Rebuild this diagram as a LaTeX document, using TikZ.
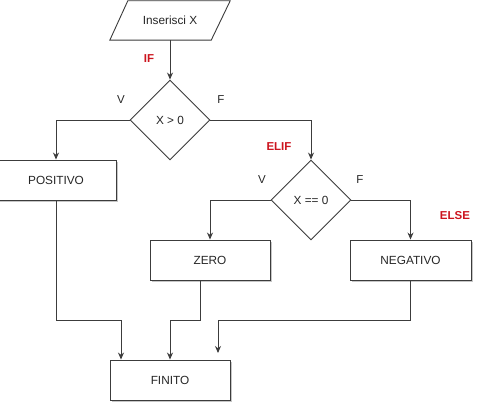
\documentclass[tikz,border=0pt]{standalone}
\usepackage{fontspec}
\setmainfont{Liberation Sans}
\usetikzlibrary{shapes.geometric,arrows.meta,shadows}
\definecolor{lbl}{RGB}{204,20,30}
\definecolor{ln}{RGB}{60,60,60}
\tikzset{
  shad/.style={drop shadow={shadow xshift=1.5pt, shadow yshift=-1.5pt, fill=black!50, opacity=0.45}},
  txt/.style={font=\fontsize{11.8}{13}\selectfont, text=black!85},
  box/.style={draw=ln, line width=0.9pt, fill=white, minimum width=120pt, minimum height=40pt, inner sep=0pt, txt, shad},
  dia/.style={draw=ln, line width=0.9pt, fill=white, diamond, aspect=1, minimum width=80pt, minimum height=80pt, inner sep=0pt, txt},
  arr/.style={draw=ln, line width=0.9pt, -{Stealth[length=7pt,width=6pt]}},
  red/.style={text=lbl, font=\bfseries\fontsize{11.5}{13}\selectfont},
  vf/.style={text=black!85, font=\fontsize{11.5}{13}\selectfont},
}
\begin{document}
\begin{tikzpicture}[x=1pt,y=-1pt]
\useasboundingbox (0,0) rectangle (482,412);
\node[minimum width=120pt, minimum height=39pt, inner sep=0pt] (inp) at (170,20.5) {};
\fill[black!50, opacity=0.45, shift={(1.5pt,-1.5pt)}] (inp.south west) -- ([xshift=-19pt]inp.south east) -- (inp.north east) -- ([xshift=18pt]inp.north west) -- cycle;
\draw[ln, line width=0.9pt, fill=white] (inp.south west) -- ([xshift=-19pt]inp.south east) -- (inp.north east) -- ([xshift=18pt]inp.north west) -- cycle;
\node[txt] (inptxt) at (inp.center) {Inserisci X};
\node[dia] (d1) at (170,120) {X > 0};
\node[box] (pos) at (56,180) {POSITIVO};
\node[dia] (d2) at (311,200) {X == 0};
\node[box, minimum width=120pt] (zero) at (210,260) {ZERO};
\node[box, minimum width=121pt] (neg) at (410.5,260) {NEGATIVO};
\node[box] (fin) at (170,380) {FINITO};
\coordinate (fend) at (218,353);
\node[red] (lif) at (149,59) {IF};
\node[vf] (v1) at (121,100) {V};
\node[vf] (f1) at (221,100) {F};
\node[red] (lelif) at (279,147) {ELIF};
\node[vf] (v2) at (262,180) {V};
\node[vf] (f2) at (360,180) {F};
\node[red] (lelse) at (455,216) {ELSE};
\draw[arr] (inp) -- (d1);
\draw[arr] (d1.west) -| (pos.north);
\draw[arr] (d1.east) -| (d2.north);
\draw[arr] (d2.west) -| (zero.north);
\draw[arr] (d2.east) -| (neg.north);
\draw[arr] (pos.south) -- ++(0,120) -| ([xshift=-49pt]fin.north);
\draw[arr] ([xshift=-10pt]zero.south) -- ++(0,40) -| (fin.north);
\draw[arr] (neg.south) -- ++(0,40) -| (fend);
\end{tikzpicture}
\end{document}
